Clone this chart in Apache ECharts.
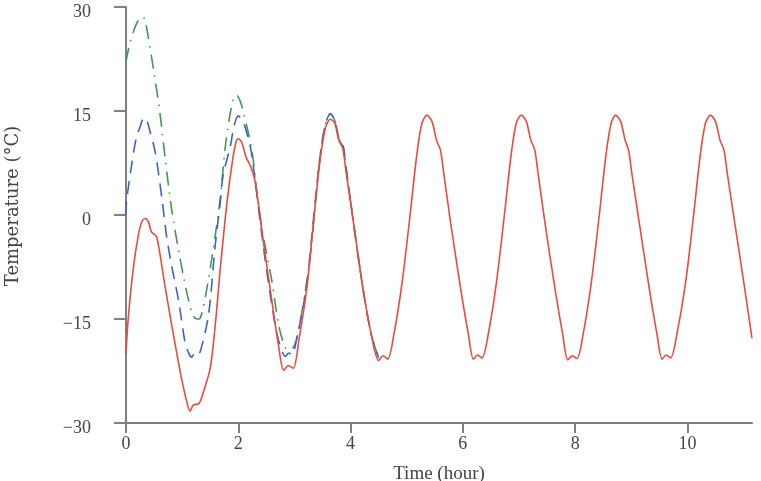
<!DOCTYPE html>
<html>
<head>
<meta charset="utf-8">
<script src="https://cdn.jsdelivr.net/npm/echarts@6/dist/echarts.min.js"></script>
<style>
  html, body { margin: 0; padding: 0; background: #fff; }
  #chart { width: 761px; height: 481px; }
</style>
</head>
<body>
<div id="chart"></div>
<script>
// time (hour), temperature (°C)
const redSeries = [
  [0, -20.0], [0.04, -14.9], [0.13, -7.7], [0.22, -2.9], [0.28, -1.0], [0.34, -0.5], [0.40, -1.0],
  [0.45, -2.4], [0.49, -2.7], [0.55, -3.2], [0.70, -10.5], [0.85, -17.5], [1.00, -24.0], [1.10, -27.5],
  [1.14, -28.3], [1.20, -27.4], [1.30, -27.2], [1.38, -25.5], [1.50, -22.1], [1.60, -15.0], [1.68, -7.7],
  [1.80, 1.9], [1.90, 8.0], [1.96, 10.5], [2.00, 11.0], [2.06, 10.5], [2.14, 8.3], [2.22, 7.0], [2.30, 4.8],
  [2.45, -4.0], [2.60, -12.5], [2.72, -19.0], [2.81, -22.4], [2.89, -21.7], [2.98, -22.1], [3.08, -18.0],
  [3.22, -10.6], [3.34, -1.0], [3.45, 7.5], [3.55, 12.5], [3.64, 13.8], [3.72, 13.2], [3.79, 10.8],
  [3.86, 9.6], [3.92, 6.2], [4.05, -1.0], [4.22, -10.6], [4.37, -17.3],
  [4.50, -21.0], [4.58, -20.3], [4.66, -20.8], [4.77, -17.3], [4.92, -9.6], [5.06, 0], [5.18, 8.7],
  [5.27, 13.2], [5.36, 14.4], [5.45, 13.5], [5.53, 10.8], [5.60, 9.4], [5.66, 6.0], [5.78, -1.0],
  [5.96, -10.6], [6.10, -17.3],
  [6.19, -20.8], [6.26, -20.2], [6.34, -20.6], [6.45, -17.3], [6.60, -9.6], [6.74, 0], [6.86, 8.7],
  [6.95, 13.2], [7.04, 14.4], [7.13, 13.5], [7.21, 10.8], [7.28, 9.4], [7.34, 6.0], [7.46, -1.0],
  [7.64, -10.6], [7.78, -17.3],
  [7.87, -20.9], [7.95, -20.3], [8.03, -20.7], [8.14, -17.3], [8.29, -9.6], [8.43, 0], [8.55, 8.7],
  [8.64, 13.2], [8.72, 14.4], [8.81, 13.5], [8.89, 10.8], [8.95, 9.4], [9.01, 6.0], [9.14, -1.0],
  [9.32, -10.6], [9.46, -17.3],
  [9.55, -20.8], [9.62, -20.2], [9.70, -20.6], [9.81, -17.3], [9.97, -9.6], [10.11, 0], [10.23, 8.7],
  [10.32, 13.2], [10.41, 14.4], [10.50, 13.5], [10.58, 10.8], [10.65, 9.4], [10.71, 6.0], [10.84, -1.0],
  [11.02, -10.6], [11.15, -17.8]
];

const blueSeries = [
  [0, 0], [0.01, 2.0], [0.10, 7.2], [0.18, 11.0], [0.25, 12.7], [0.32, 14.0], [0.36, 13.9], [0.42, 12.3],
  [0.52, 9.1], [0.64, 2.4], [0.72, -2.9], [0.81, -7.2], [0.94, -12.5], [1.05, -18.3], [1.12, -20.0],
  [1.17, -20.5], [1.22, -20.0], [1.27, -20.3], [1.33, -19.5], [1.47, -14.4], [1.59, -4.3], [1.68, 1.9],
  [1.73, 5.8], [1.85, 9.6], [1.93, 13.0], [2.00, 14.3], [2.06, 13.8], [2.12, 12.7], [2.22, 9.6],
  [2.30, 5.0], [2.39, -1.0], [2.55, -10.5], [2.70, -17.5], [2.84, -20.4], [2.90, -19.9], [2.95, -20.2],
  [3.05, -17.5], [3.22, -10.0], [3.34, -0.5], [3.45, 8.0], [3.55, 13.0], [3.64, 14.6], [3.72, 13.6],
  [3.80, 10.8], [3.87, 9.8], [3.93, 6.2], [4.05, -1.0], [4.22, -10.6], [4.37, -17.3], [4.50, -20.6]
];

const greenSeries = [
  [0, 22.1], [0.06, 24.5], [0.13, 26.4], [0.20, 27.8], [0.28, 28.6], [0.33, 28.3], [0.40, 25.5],
  [0.50, 20.5], [0.60, 15.0], [0.70, 8.0], [0.81, 1.0], [0.94, -5.3], [1.03, -9.1], [1.12, -12.5],
  [1.19, -14.4], [1.26, -15.0], [1.32, -14.9], [1.44, -10.6], [1.59, -2.9], [1.68, 2.5], [1.78, 10.6],
  [1.91, 16.8], [1.97, 17.3], [2.03, 16.5], [2.09, 14.9], [2.24, 9.4], [2.33, 3.4], [2.42, -1.9],
  [2.60, -9.6], [2.72, -15.9], [2.84, -19.2], [2.92, -19.4], [3.00, -18.8], [3.07, -16.8], [3.22, -9.6],
  [3.31, -3.8], [3.45, 8.0], [3.55, 13.0], [3.64, 14.6], [3.72, 13.6], [3.80, 10.8], [3.87, 9.8],
  [3.93, 6.2], [4.05, -1.0], [4.22, -10.6], [4.37, -17.3], [4.50, -20.6]
];

const xTicks = [0, 2, 4, 6, 8, 10];
const yTicks = [-30, -15, 0, 15, 30];

const chart = echarts.init(document.getElementById('chart'));
const axisGrey = '#808080';
const serif = 'Liberation Serif';

chart.setOption({
  animation: false,
  grid: { left: 126, right: 9, top: 7, bottom: 58, outerBoundsMode: 'none' },
  xAxis: {
    type: 'value',
    min: 0,
    max: 11.15,
    name: 'Time (hour)',
    nameLocation: 'middle',
    nameGap: 42,
    nameTextStyle: { color: '#444', fontFamily: serif, fontSize: 19 },
    axisLine: { onZero: false, lineStyle: { color: axisGrey, width: 2 } },
    axisTick: { show: true, length: 10, customValues: xTicks, lineStyle: { color: axisGrey, width: 2 } },
    axisLabel: { customValues: xTicks, margin: 12, color: '#444', fontFamily: serif, fontSize: 18 },
    splitLine: { show: false }
  },
  yAxis: {
    type: 'value',
    min: -30,
    max: 30,
    interval: 15,
    name: 'Temperature (°C)',
    nameLocation: 'middle',
    nameGap: 104,
    nameTextStyle: { color: '#444', fontFamily: 'DejaVu Serif', fontSize: 18, padding: [0, 0, 0, 18] },
    axisLine: { show: true, onZero: false, lineStyle: { color: axisGrey, width: 2 } },
    axisTick: { show: true, length: 12, lineStyle: { color: axisGrey, width: 2 } },
    axisLabel: {
      customValues: yTicks,
      margin: 35,
      verticalAlign: 'top',
      lineHeight: 10,
      color: '#444',
      fontFamily: serif,
      fontSize: 18,
      formatter: v => (v < 0 ? '\u2212' + Math.abs(v) : String(v))
    },
    splitLine: { show: false }
  },
  series: [
    {
      type: 'line',
      data: greenSeries,
      showSymbol: false,
      smooth: 0.3,
      lineStyle: { color: '#3f9a55', width: 1.6, type: [14, 7, 1.5, 7] }
    },
    {
      type: 'line',
      data: blueSeries,
      showSymbol: false,
      smooth: 0.3,
      lineStyle: { color: '#3b64c0', width: 1.6, type: [13, 8] }
    },
    {
      type: 'line',
      data: redSeries,
      showSymbol: false,
      smooth: 0.3,
      lineStyle: { color: '#ec4a3c', width: 1.6 }
    }
  ]
});
</script>
</body>
</html>
